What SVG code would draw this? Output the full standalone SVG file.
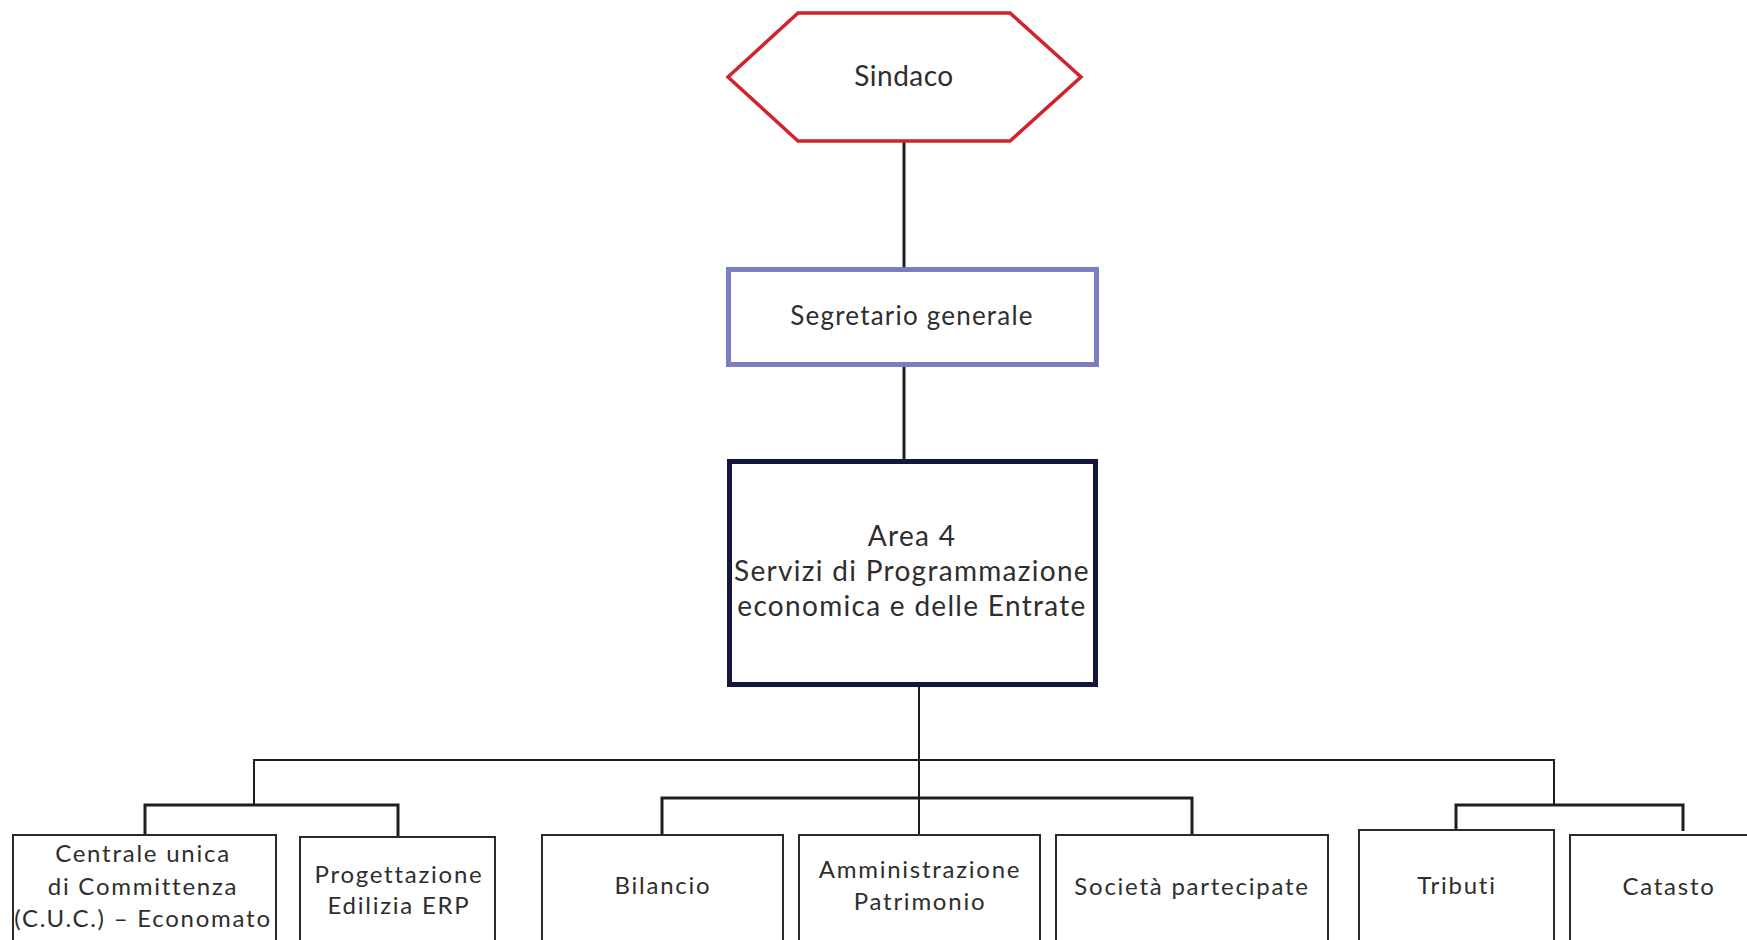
<svg xmlns="http://www.w3.org/2000/svg" width="1747" height="940" viewBox="0 0 1747 940">
  <style>
    .lbl { font-family: "Lato", "Noto Sans", "Liberation Sans", sans-serif; fill: #2e2e2e; text-anchor: middle; }
    .big { font-size: 28px; letter-spacing: 1.3px; }
    .top { font-size: 28px; letter-spacing: 0.5px; }
    .mid { font-size: 26px; letter-spacing: 1.2px; }
    .sm { font-size: 24px; letter-spacing: 1.75px; }
    .unit { fill: #ffffff; stroke: #2a2a2a; stroke-width: 2; }
    .wire { fill: none; stroke: #1e1e1e; stroke-width: 2; }
    .bus { fill: none; stroke: #1e1e1e; stroke-width: 3; }
  </style>
  <rect width="1747" height="940" fill="#ffffff"/>

  <!-- connectors -->
  <g id="connectors">
    <line class="bus" x1="904" y1="141" x2="904" y2="268"/>
    <line class="bus" x1="904" y1="367" x2="904" y2="460"/>
    <!-- main distribution from Area 4 -->
    <line class="wire" x1="919" y1="685" x2="919" y2="834"/>
    <polyline class="wire" points="254,806 254,760 1554,760 1554,806"/>
    <!-- left group -->
    <polyline class="bus" points="145,835 145,805 398,805 398,836"/>
    <!-- middle group -->
    <polyline class="bus" points="662,834 662,798 1192,798 1192,834"/>
    <!-- right group -->
    <polyline class="bus" points="1456,830 1456,805 1683,805 1683,831"/>
  </g>

  <g id="sindaco">
    <polygon points="728,77 798,13 1010,13 1081,77 1010,141 798,141" fill="#ffffff" stroke="#d1232a" stroke-width="3.5" stroke-linejoin="miter"/>
    <text class="lbl top" x="904" y="86">Sindaco</text>
  </g>

  <g id="segretario">
    <rect x="728.5" y="269.5" width="368" height="95" fill="#ffffff" stroke="#7c7fbf" stroke-width="5"/>
    <text class="lbl mid" x="912" y="325">Segretario generale</text>
  </g>

  <g id="area4">
    <rect x="729.5" y="461.5" width="366" height="223" fill="#ffffff" stroke="#131739" stroke-width="5"/>
    <text class="lbl big" x="912" y="546">Area 4</text>
    <text class="lbl big" x="912" y="581">Servizi di Programmazione</text>
    <text class="lbl big" x="912" y="616">economica e delle Entrate</text>
  </g>

  <g id="cuc">
    <rect class="unit" x="13" y="835" width="263" height="140"/>
    <text class="lbl sm" x="143" y="862">Centrale unica</text>
    <text class="lbl sm" x="143" y="895">di Committenza</text>
    <text class="lbl sm" x="143" y="927">(C.U.C.) – Economato</text>
  </g>

  <g id="progettazione">
    <rect class="unit" x="300" y="837" width="195" height="140"/>
    <text class="lbl sm" x="399" y="883">Progettazione</text>
    <text class="lbl sm" x="399" y="914">Edilizia ERP</text>
  </g>

  <g id="bilancio">
    <rect class="unit" x="542" y="835" width="241" height="140"/>
    <text class="lbl sm" x="663" y="894">Bilancio</text>
  </g>

  <g id="patrimonio">
    <rect class="unit" x="799" y="835" width="241" height="140"/>
    <text class="lbl sm" x="920" y="878">Amministrazione</text>
    <text class="lbl sm" x="920" y="910">Patrimonio</text>
  </g>

  <g id="partecipate">
    <rect class="unit" x="1056" y="835" width="272" height="140"/>
    <text class="lbl sm" x="1192" y="895">Società partecipate</text>
  </g>

  <g id="tributi">
    <rect class="unit" x="1359" y="830" width="195" height="140"/>
    <text class="lbl sm" x="1457" y="894">Tributi</text>
  </g>

  <g id="catasto">
    <rect class="unit" x="1570" y="835" width="200" height="140"/>
    <text class="lbl sm" x="1669" y="895">Catasto</text>
  </g>
</svg>
